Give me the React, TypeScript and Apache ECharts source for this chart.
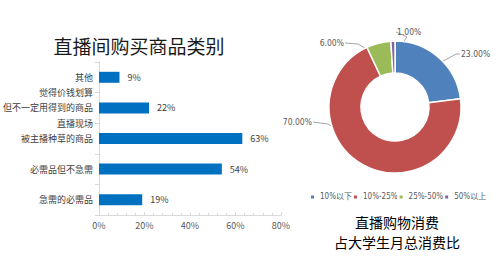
import React, { useEffect, useRef } from "react";
import * as echarts from "echarts";

// Bar chart data (top to bottom)
const barCategories = [
  "其他",
  "觉得价钱划算\n但不一定用得到的商品\n",
  "直播现场\n被主播种草的商品\n",
  "必需品但不急需",
  "急需的必需品",
];
const barValues = [9, 22, 63, 54, 19];
const xTicks = [0, 20, 40, 60, 80];

// Pie data
const pieNames = ["10%以下", "10%-25%", "25%-50%", "50%以上"];
const pieValues = [23, 70, 6, 1];
const pieColors = ["#4F81BD", "#C0504D", "#9BBB59", "#8064A2"];

const barTitle = "直播间购买商品类别";
const pieTitle = "直播购物消费\n占大学生月总消费比";

const PIE_CENTER = [395, 107];
const PIE_R = [34, 66];
// label anchor positions per slice (same order as data): [labelX, labelY, elbowX, elbowY, align]
const labelAnchors: [number, number, number, number, string][] = [
  [461, 54, 456, 54, "left"],
  [312, 122, 328, 124, "right"],
  [344, 43, 358, 44, "right"],
  [397, 32, 407, 37, "left"],
];

const CJK = '"Noto Sans CJK SC", "Noto Sans", sans-serif';
const NARROW = '"Liberation Sans Narrow", "DejaVu Sans Condensed", Roboto, "Noto Sans CJK SC", sans-serif';

export default function App() {
  const ref = useRef<HTMLDivElement>(null);
  useEffect(() => {
    document.body.style.margin = "0";
    const chart = echarts.init(ref.current!, undefined, { renderer: "svg" });
    chart.setOption({
      animation: false,
      backgroundColor: "#ffffff",
      textStyle: { fontFamily: CJK },
      grid: { left: 99, right: 219, top: 62, bottom: 60, containLabel: false },
      xAxis: {
        type: "value",
        min: xTicks[0],
        max: xTicks[xTicks.length - 1],
        interval: 20,
        axisLine: { show: true, lineStyle: { color: "#d9d9d9", width: 1 } },
        axisTick: { show: true, inside: true, length: 3, lineStyle: { color: "#d9d9d9" } },
        minorTick: { show: true, splitNumber: 5, length: 2, lineStyle: { color: "#d9d9d9" } },
        splitLine: { show: false },
        axisLabel: {
          formatter: "{value}%",
          color: "#595959",
          fontSize: 9,
          margin: 6,
          fontFamily: CJK,
        },
      },
      yAxis: {
        type: "category",
        data: barCategories,
        inverse: true,
        axisLine: { show: true, lineStyle: { color: "#d9d9d9", width: 1 } },
        axisTick: { show: true, length: 4, alignWithLabel: false, lineStyle: { color: "#d9d9d9" } },
        axisLabel: {
          color: "#404040",
          fontSize: 9,
          lineHeight: 15,
          margin: 6,
          interval: 0,
          fontFamily: CJK,
        },
      },
      legend: {
        data: pieNames,
        left: 309,
        top: 193,
        width: 260,
        padding: 0,
        itemWidth: 5,
        itemHeight: 5,
        itemGap: 0,
        icon: "rect",
        textStyle: { color: "#595959", fontSize: 8, fontFamily: NARROW },
      },
      graphic: [
        {
          type: "text",
          x: 139,
          y: 45,
          style: {
            text: barTitle,
            align: "center",
            verticalAlign: "middle",
            fontSize: 19,
            fontFamily: CJK,
            fill: "#1a1a1a",
          },
        },
        {
          type: "text",
          x: 397,
          y: 232,
          style: {
            text: pieTitle,
            align: "center",
            verticalAlign: "middle",
            fontSize: 14,
            lineHeight: 20,
            fontFamily: CJK,
            fill: "#000000",
          },
        },
      ],
      series: [
        {
          type: "bar",
          data: barValues,
          barWidth: 11,
          itemStyle: { color: "#0070C0" },
          label: {
            show: true,
            position: "right",
            distance: 8,
            formatter: "{c}%",
            color: "#404040",
            fontSize: 9,
            fontFamily: CJK,
          },
        },
        {
          type: "pie",
          center: PIE_CENTER,
          radius: PIE_R,
          startAngle: 90,
          clockwise: true,
          data: pieNames.map((n, i) => ({
            name: n,
            value: pieValues[i],
            itemStyle: { color: pieColors[i] },
          })),
          itemStyle: { borderColor: "#ffffff", borderWidth: 1.5 },
          label: {
            show: true,
            formatter: (p: any) => p.value.toFixed(2) + "%",
            color: "#595959",
            fontSize: 8.5,
            fontFamily: NARROW,
          },
          labelLine: { show: true, length: 10, length2: 10, lineStyle: { color: "#a6a6a6", width: 1 } },
          labelLayout: (params: any) => {
            const a = labelAnchors[params.dataIndex];
            const pts = params.labelLinePoints;
            let start = [a[2], a[3]];
            if (pts && pts[0]) {
              const dx = pts[0][0] - PIE_CENTER[0];
              const dy = pts[0][1] - PIE_CENTER[1];
              const d = Math.sqrt(dx * dx + dy * dy) || 1;
              start = [PIE_CENTER[0] + (dx / d) * 50, PIE_CENTER[1] + (dy / d) * 50];
            }
            const endX = a[4] === "left" ? a[0] - 1 : a[0] + 1;
            return {
              x: a[0],
              y: a[1],
              align: a[4],
              verticalAlign: "middle",
              labelLinePoints: [start, [a[2], a[3]], [endX, a[1]]],
            };
          },
        },
      ],
    });
    return () => chart.dispose();
  }, []);
  return (
    <div
      ref={ref}
      style={{ position: "absolute", left: 0, top: 0, width: 500, height: 275 }}
    />
  );
}
